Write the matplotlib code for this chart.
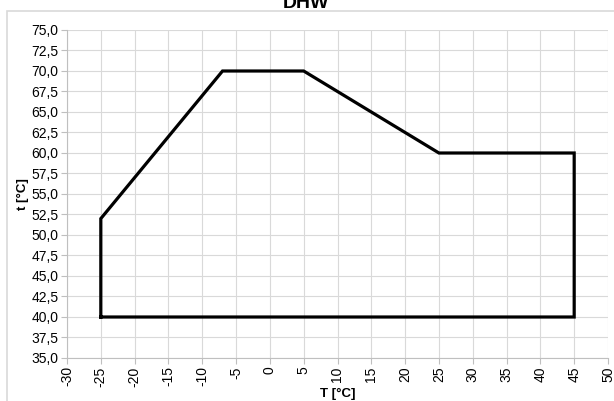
import numpy as np
import matplotlib.pyplot as plt
from matplotlib.patches import Rectangle
from matplotlib.ticker import FuncFormatter

# envelope of the DHW operating range
T = [-25, -25, -7, 5, 25, 45, 45, -25]
t = [40, 52, 70, 70, 60, 60, 40, 40]

x_ticks = np.arange(-30, 51, 5)
y_ticks = np.arange(35, 75.1, 2.5)

plt.rcParams['font.family'] = ['Liberation Sans', 'DejaVu Sans']

fig = plt.figure(figsize=(6.14, 4.01), dpi=100)
# chart area frame
fig.patches.append(Rectangle((7 / 614, -0.1), 1.1, 1.1 - 11 / 401, transform=fig.transFigure,
                             fill=False, edgecolor='#d9d9d9', linewidth=1.2))
ax = fig.add_axes([67 / 614, 1 - 358 / 401, (608 - 67) / 614, (358 - 30) / 401])

ax.plot(T, t, color='black', linewidth=2.3, solid_joinstyle='miter')

ax.set_xlim(-30, 50)
ax.set_ylim(35, 75)
ax.set_xticks(x_ticks)
ax.set_yticks(y_ticks)
ax.yaxis.set_major_formatter(FuncFormatter(lambda v, p: f"{v:.1f}".replace('.', ',')))
ax.xaxis.set_major_formatter(FuncFormatter(lambda v, p: f"{v:.0f}"))
ax.tick_params(axis='x', rotation=90, labelsize=10, length=4, color='#bfbfbf', pad=2)
ax.tick_params(axis='y', labelsize=10, length=4, color='#bfbfbf', pad=2)
ax.grid(True, color='#d9d9d9', linewidth=0.8)
ax.set_axisbelow(True)
for s in ['top', 'right']:
    ax.spines[s].set_visible(False)
for s in ['left', 'bottom']:
    ax.spines[s].set_color('#bfbfbf')

ax.set_xlabel('T [°C]', fontsize=9.5, fontweight='bold', labelpad=1)
ax.set_ylabel('t [°C]', fontsize=9.5, fontweight='bold', labelpad=2)
# title sits partly above the top edge, as in the reference
fig.text(306 / 614, 1 - 8 / 401, 'DHW', ha='center', va='baseline', fontsize=14, fontweight='bold')

fig.savefig('out.png', dpi=100)
